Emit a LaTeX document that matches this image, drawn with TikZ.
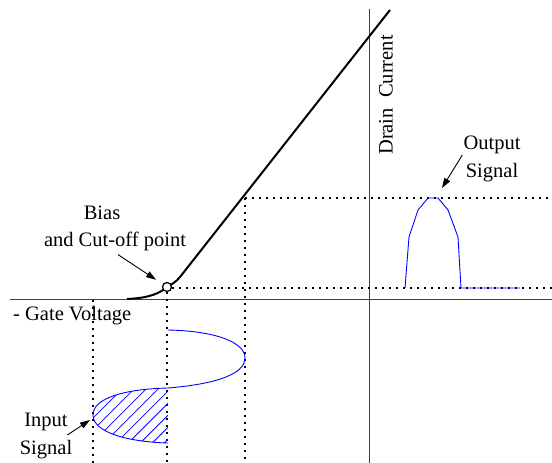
\documentclass[tikz,border=0pt]{standalone}
\usepackage{fontspec}
\setmainfont{Liberation Serif}
\usetikzlibrary{arrows.meta,patterns.meta}

\begin{document}
\begin{tikzpicture}[x=1pt,y=-1pt,
  every node/.style={font=\fontsize{20.5}{28}\selectfont,inner sep=0pt},
  axis/.style={line width=1pt,black!75},
  dotline/.style={line width=1.6pt,dash pattern=on 1.6pt off 5.4pt},
  sig/.style={blue,line width=0.9pt},
  pointer/.style={line width=0.9pt,-{Triangle[length=10pt,width=6.5pt]}}]
\useasboundingbox (0,0) rectangle (552,463);
% axes
\coordinate (xl) at (10,299);
\coordinate (xr) at (552,299);
\coordinate (yt) at (369,9);
\coordinate (yb) at (369,463);
\draw[axis] (xl)--(xr);
\draw[axis] (yt)--(yb);
% transfer curve
\coordinate (k0) at (127,299);
\coordinate (k1) at (180,277);
\coordinate (ktop) at (390,10);
\draw[line width=2pt] (k0) .. controls (150,298) and (160,293) .. (167,287)
  .. controls (172,284) and (176,282) .. (k1) -- (ktop);
% projection lines
\draw[dotline] (172,288)--(552,288);
\draw[dotline] (245,198)--(552,198);
\draw[dotline] (245,198)--(245,463);
\draw[dotline] (167,292)--(167,463);
\draw[dotline] (93,300)--(93,463);
\node[circle,draw,fill=white,line width=1.3pt,minimum size=9pt] (biaspt) at (167,287) {};
% input signal
\fill[pattern={Lines[angle=45,distance=8.5pt,line width=0.8pt]},pattern color=blue]
  (168,388) .. controls (125,389) and (93,398) .. (93,415)
  .. controls (93,433) and (130,442) .. (168,443) -- cycle;
\draw[sig] (168,330) .. controls (215,331) and (245,342) .. (245,358)
  .. controls (245,377) and (205,385) .. (168,388)
  .. controls (125,389) and (93,398) .. (93,415)
  .. controls (93,433) and (130,442) .. (168,443);
% output signal
\draw[sig] (405,288)--(409,237)--(418,210)--(428,198)--(438,198)--(448,210)
  --(458,237)--(461,288)--(520,288);
% labels
\node[anchor=west] (gate) at (13,316) {- Gate Voltage};
\node[rotate=90] (drain) at (386,95) {Drain\ \ Current};
\node (bias) at (102,213) {Bias};
\node (cutoff) at (115,241) {and Cut-off point};
\node[align=center] (outlbl) at (492,159) {Output\\Signal};
\node[align=center] (inlbl) at (46,436) {Input\\Signal};
\coordinate (outtip) at (442,188);
\coordinate (intip) at (90,420);
\draw[pointer,shorten >=8pt] ([xshift=3pt,yshift=-4pt]cutoff.south) -- (biaspt);
\draw[pointer] ([xshift=-1pt,yshift=4pt]outlbl.west) -- (outtip);
\draw[pointer] ([xshift=-5pt,yshift=1pt]inlbl.east) -- (intip);
\end{tikzpicture}
\end{document}
